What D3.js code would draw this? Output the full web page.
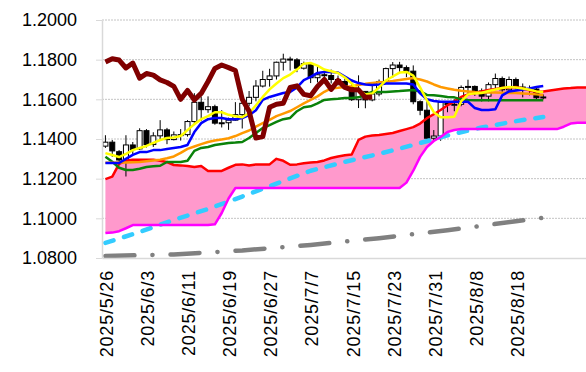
<!DOCTYPE html>
<html>
<head>
<meta charset="utf-8">
<script src="https://cdn.jsdelivr.net/npm/d3@7/dist/d3.min.js"></script>
<style>
  body { margin: 0; background: #fff; }
  svg { display: block; font-family: "Liberation Sans", Arial, sans-serif; }
</style>
</head>
<body>
<div id="chart"></div>
<script>
// trading days shown on the chart (weekdays)
const dates = [
  "2025/5/26", "2025/5/27", "2025/5/28", "2025/5/29", "2025/5/30",
  "2025/6/2", "2025/6/3", "2025/6/4", "2025/6/5", "2025/6/6",
  "2025/6/9", "2025/6/10", "2025/6/11", "2025/6/12", "2025/6/13",
  "2025/6/16", "2025/6/17", "2025/6/18", "2025/6/19", "2025/6/20",
  "2025/6/23", "2025/6/24", "2025/6/25", "2025/6/26", "2025/6/27",
  "2025/6/30", "2025/7/1", "2025/7/2", "2025/7/3", "2025/7/4",
  "2025/7/7", "2025/7/8", "2025/7/9", "2025/7/10", "2025/7/11",
  "2025/7/14", "2025/7/15", "2025/7/16", "2025/7/17", "2025/7/18",
  "2025/7/21", "2025/7/22", "2025/7/23", "2025/7/24", "2025/7/25",
  "2025/7/28", "2025/7/29", "2025/7/30", "2025/7/31", "2025/8/1",
  "2025/8/4", "2025/8/5", "2025/8/6", "2025/8/7", "2025/8/8",
  "2025/8/11", "2025/8/12", "2025/8/13", "2025/8/14", "2025/8/15",
  "2025/8/18", "2025/8/19", "2025/8/20", "2025/8/21", "2025/8/22",
];
const xTickIdx = [0, 6, 12, 18, 24, 30, 36, 42, 48, 54, 60];
const yTicks = [1.08, 1.1, 1.12, 1.14, 1.16, 1.18, 1.2];

const open = [
  1.1364, 1.1384, 1.1336, 1.1290, 1.1370, 1.1350, 1.1442, 1.1372, 1.1416, 1.1446,
  1.1397, 1.1421, 1.1422, 1.1488, 1.1585, 1.1548, 1.1563, 1.1480, 1.1482, 1.1495,
  1.1523, 1.1580, 1.1610, 1.1667, 1.1700, 1.1718, 1.1787, 1.1803, 1.1799, 1.1757,
  1.1780, 1.1709, 1.1724, 1.1720, 1.1700, 1.1690, 1.1660, 1.1598, 1.1640, 1.1597,
  1.1627, 1.1690, 1.1755, 1.1773, 1.1760, 1.1742, 1.1588, 1.1545, 1.1404, 1.1415,
  1.1585, 1.1573, 1.1575, 1.1660, 1.1665, 1.1642, 1.1616, 1.1674, 1.1705, 1.1648,
  1.1700, 1.1662, 1.1650, 1.1652, 1.1608,
];
const high = [
  1.1419, 1.1395, 1.1344, 1.1419, 1.1385, 1.1454, 1.1450, 1.1434, 1.1495, 1.1456,
  1.1438, 1.1450, 1.1495, 1.1631, 1.1614, 1.1615, 1.1573, 1.1545, 1.1508, 1.1586,
  1.1590, 1.1642, 1.1697, 1.1744, 1.1754, 1.1790, 1.1830, 1.1815, 1.1808, 1.1790,
  1.1785, 1.1766, 1.1746, 1.1750, 1.1720, 1.1705, 1.1700, 1.1721, 1.1640, 1.1670,
  1.1700, 1.1760, 1.1788, 1.1789, 1.1771, 1.1771, 1.1595, 1.1595, 1.1445, 1.1590,
  1.1590, 1.1600, 1.1670, 1.1699, 1.1670, 1.1655, 1.1685, 1.1730, 1.1715, 1.1715,
  1.1710, 1.1680, 1.1670, 1.1660, 1.1625,
];
const low = [
  1.1355, 1.1310, 1.1285, 1.1211, 1.1317, 1.1345, 1.1357, 1.1360, 1.1400, 1.1374,
  1.1393, 1.1392, 1.1412, 1.1470, 1.1490, 1.1532, 1.1472, 1.1458, 1.1446, 1.1492,
  1.1453, 1.1565, 1.1590, 1.1660, 1.1664, 1.1700, 1.1745, 1.1745, 1.1737, 1.1750,
  1.1682, 1.1685, 1.1680, 1.1680, 1.1670, 1.1650, 1.1592, 1.1556, 1.1555, 1.1590,
  1.1615, 1.1680, 1.1710, 1.1730, 1.1712, 1.1575, 1.1520, 1.1400, 1.1390, 1.1391,
  1.1535, 1.1540, 1.1565, 1.1630, 1.1617, 1.1589, 1.1590, 1.1650, 1.1630, 1.1640,
  1.1650, 1.1610, 1.1620, 1.1600, 1.1600,
];
const close = [
  1.1384, 1.1340, 1.1294, 1.1370, 1.1347, 1.1442, 1.1372, 1.1416, 1.1446, 1.1397,
  1.1421, 1.1422, 1.1488, 1.1585, 1.1548, 1.1563, 1.1480, 1.1482, 1.1495, 1.1523,
  1.1580, 1.1610, 1.1667, 1.1700, 1.1718, 1.1787, 1.1803, 1.1799, 1.1757, 1.1780,
  1.1709, 1.1724, 1.1720, 1.1700, 1.1690, 1.1660, 1.1598, 1.1640, 1.1597, 1.1627,
  1.1690, 1.1755, 1.1773, 1.1760, 1.1742, 1.1588, 1.1545, 1.1404, 1.1415, 1.1585,
  1.1573, 1.1575, 1.1660, 1.1665, 1.1642, 1.1616, 1.1674, 1.1705, 1.1648, 1.1700,
  1.1662, 1.1650, 1.1652, 1.1608, 1.1612,
];

// yellow line
const yellowLine = [
  1.1329, 1.1319, 1.1309, 1.1325, 1.1344, 1.1355, 1.1365, 1.1380, 1.1395, 1.1405,
  1.1408, 1.1415, 1.1445, 1.1475, 1.1500, 1.1515, 1.1535, 1.1535, 1.1522, 1.1515,
  1.1510, 1.1530, 1.1570, 1.1612, 1.1650, 1.1680, 1.1707, 1.1725, 1.1750, 1.1780,
  1.1783, 1.1770, 1.1750, 1.1742, 1.1733, 1.1710, 1.1680, 1.1645, 1.1625, 1.1630,
  1.1660, 1.1695, 1.1715, 1.1735, 1.1738, 1.1720, 1.1660, 1.1595, 1.1535, 1.1510,
  1.1510, 1.1512, 1.1590, 1.1625, 1.1630, 1.1632, 1.1642, 1.1650, 1.1657, 1.1662,
  1.1660, 1.1655, 1.1648, 1.1640, 1.1637,
];
// blue line (conversion)
const blueLine = [
  1.1279, 1.1279, 1.1279, 1.1300, 1.1320, 1.1334, 1.1334, 1.1344, 1.1344, 1.1350,
  1.1355, 1.1360, 1.1370, 1.1435, 1.1480, 1.1500, 1.1506, 1.1506, 1.1500, 1.1500,
  1.1506, 1.1520, 1.1545, 1.1597, 1.1612, 1.1622, 1.1632, 1.1637, 1.1660, 1.1697,
  1.1713, 1.1733, 1.1738, 1.1738, 1.1735, 1.1715, 1.1695, 1.1682, 1.1675, 1.1672,
  1.1675, 1.1680, 1.1680, 1.1680, 1.1680, 1.1675, 1.1630, 1.1600, 1.1592, 1.1588,
  1.1588, 1.1588, 1.1588, 1.1588, 1.1556, 1.1546, 1.1546, 1.1550, 1.1620, 1.1640,
  1.1645, 1.1650, 1.1655, 1.1662, 1.1667,
];
// green line (base)
const greenLine = [
  1.1310, 1.1285, 1.1255, 1.1244, 1.1244, 1.1250, 1.1259, 1.1262, 1.1265, 1.1284,
  1.1284, 1.1284, 1.1290, 1.1340, 1.1355, 1.1360, 1.1370, 1.1375, 1.1380, 1.1382,
  1.1385, 1.1405, 1.1430, 1.1455, 1.1470, 1.1486, 1.1500, 1.1506, 1.1540, 1.1560,
  1.1565, 1.1580, 1.1597, 1.1600, 1.1603, 1.1607, 1.1607, 1.1610, 1.1625, 1.1637,
  1.1637, 1.1637, 1.1640, 1.1642, 1.1645, 1.1647, 1.1640, 1.1622, 1.1620, 1.1617,
  1.1612, 1.1610, 1.1600, 1.1597, 1.1595, 1.1595, 1.1595, 1.1595, 1.1595, 1.1595,
  1.1595, 1.1595, 1.1595, 1.1595, 1.1595,
];
// orange line
const orangeLine = [
  1.1280, 1.1280, 1.1281, 1.1282, 1.1283, 1.1284, 1.1288, 1.1292, 1.1296, 1.1303,
  1.1312, 1.1330, 1.1350, 1.1362, 1.1374, 1.1385, 1.1392, 1.1398, 1.1404, 1.1415,
  1.1430, 1.1443, 1.1462, 1.1480, 1.1496, 1.1515, 1.1528, 1.1541, 1.1560, 1.1580,
  1.1597, 1.1615, 1.1638, 1.1655, 1.1658, 1.1662, 1.1666, 1.1672, 1.1678, 1.1682,
  1.1686, 1.1688, 1.1692, 1.1697, 1.1702, 1.1707, 1.1700, 1.1690, 1.1675, 1.1662,
  1.1655, 1.1648, 1.1643, 1.1640, 1.1637, 1.1635, 1.1635, 1.1634, 1.1633, 1.1632,
  1.1632, 1.1630, 1.1628, 1.1625, 1.1622,
];
// leading span 1 (red) and span 2 (magenta), running past the last candle
const span1 = [
  1.1198, 1.1210, 1.1275, 1.1290, 1.1296, 1.1296, 1.1296, 1.1296, 1.1290, 1.1284,
  1.1269, 1.1267, 1.1264, 1.1259, 1.1264, 1.1239, 1.1239, 1.1239, 1.1255, 1.1270,
  1.1272, 1.1266, 1.1272, 1.1272, 1.1272, 1.1300, 1.1290, 1.1270, 1.1272, 1.1278,
  1.1282, 1.1284, 1.1292, 1.1304, 1.1312, 1.1318, 1.1322, 1.1395, 1.1412, 1.1418,
  1.1420, 1.1425, 1.1430, 1.1440, 1.1450, 1.1460, 1.1478, 1.1505, 1.1525, 1.1546,
  1.1570, 1.1590, 1.1612, 1.1625, 1.1632, 1.1640, 1.1647, 1.1652, 1.1657, 1.1660,
  1.1662, 1.1655, 1.1645, 1.1638, 1.1640, 1.1645, 1.1650, 1.1655, 1.1657, 1.1660,
  1.1660, 1.1660,
];
const span2 = [
  1.0926, 1.0928, 1.0935, 1.0950, 1.0966, 1.0966, 1.0966, 1.0966, 1.0966, 1.0966,
  1.0966, 1.0966, 1.0966, 1.0966, 1.0966, 1.0966, 1.0970, 1.1027, 1.1100, 1.1153,
  1.1153, 1.1153, 1.1153, 1.1153, 1.1153, 1.1153, 1.1153, 1.1153, 1.1153, 1.1153,
  1.1153, 1.1153, 1.1153, 1.1153, 1.1153, 1.1153, 1.1153, 1.1153, 1.1153, 1.1153,
  1.1153, 1.1153, 1.1153, 1.1153, 1.1180, 1.1240, 1.1310, 1.1360, 1.1390, 1.1410,
  1.1435, 1.1445, 1.1450, 1.1450, 1.1450, 1.1450, 1.1450, 1.1450, 1.1450, 1.1450,
  1.1450, 1.1450, 1.1450, 1.1450, 1.1450, 1.1450, 1.1450, 1.1462, 1.1478, 1.1482,
  1.1482, 1.1482,
];
// lagging span (dark red), close shifted back
const laggingSpan = [
  1.1788, 1.1805, 1.1798, 1.1758, 1.1783, 1.1707, 1.1730, 1.1722, 1.1698, 1.1685,
  1.1665, 1.1600, 1.1645, 1.1597, 1.1630, 1.1690, 1.1756, 1.1773, 1.1760, 1.1745,
  1.1600, 1.1540, 1.1405, 1.1412, 1.1560, 1.1575, 1.1580, 1.1660, 1.1668, 1.1625,
  1.1618, 1.1665, 1.1700, 1.1650, 1.1695, 1.1660, 1.1648, 1.1648, 1.1610, 1.1612,
];
// long moving averages, read at [day index, value]
const cyanLine = [
  [0, 1.0876], [5, 1.0931], [10, 1.0992], [15, 1.1047], [20, 1.1110], [25, 1.1175],
  [30, 1.1240], [35, 1.1285], [40, 1.1325], [45, 1.1370], [50, 1.1418], [55, 1.1458],
  [60, 1.1490], [64, 1.1511],
];
const grayLine = [
  [0, 1.0810], [10, 1.0818], [20, 1.0838], [30, 1.0866], [40, 1.0900],
  [50, 1.0940], [60, 1.0985], [64, 1.1003],
];

document.addEventListener("DOMContentLoaded", () => {
  initChart();
});

const initChart = () => {
  const width = 586;
  const height = 372;
  const left = 102;
  const top = 20;
  const bottom = 258;

  const svg = d3
    .select("#chart")
    .append("svg")
    .attr("width", width)
    .attr("height", height);

  svg.append("rect").attr("width", width).attr("height", height).attr("fill", "#fff");

  const xScale = d3.scaleLinear().domain([-0.5, 70.25]).range([left, width]);
  const yScale = d3.scaleLinear().domain([1.08, 1.2]).range([bottom, top]);

  // dotted grid
  svg
    .append("g")
    .selectAll("line")
    .data(yTicks.slice(1))
    .enter()
    .append("line")
    .attr("x1", left)
    .attr("x2", width)
    .attr("y1", (d) => yScale(d))
    .attr("y2", (d) => yScale(d))
    .attr("stroke", "#c4c4c4")
    .attr("stroke-width", 1)
    .attr("stroke-dasharray", "2,1");

  // cloud
  const cloud = d3
    .area()
    .x((d, i) => xScale(i))
    .y0((d, i) => yScale(span2[i]))
    .y1((d) => yScale(d));
  svg.append("path").attr("d", cloud(span1)).attr("fill", "#ff99cc");

  // candles
  const candles = svg
    .append("g")
    .selectAll("g")
    .data(close)
    .enter()
    .append("g");
  candles
    .append("line")
    .attr("x1", (d, i) => xScale(i))
    .attr("x2", (d, i) => xScale(i))
    .attr("y1", (d, i) => yScale(high[i]))
    .attr("y2", (d, i) => yScale(low[i]))
    .attr("stroke", "#000")
    .attr("stroke-width", 1);
  candles
    .append("rect")
    .attr("x", (d, i) => xScale(i) - 2.5)
    .attr("width", 5)
    .attr("y", (d, i) => yScale(Math.max(open[i], d)))
    .attr("height", (d, i) => Math.max(1, Math.abs(yScale(open[i]) - yScale(d))))
    .attr("fill", (d, i) => (d < open[i] ? "#000" : "#fff"))
    .attr("stroke", "#000")
    .attr("stroke-width", 1);

  const line = d3
    .line()
    .x((d, i) => xScale(i))
    .y((d) => yScale(d));
  const pairLine = d3
    .line()
    .x((d) => xScale(d[0]))
    .y((d) => yScale(d[1]));

  const drawPath = (d, color, w, dash, cap) =>
    svg
      .append("path")
      .attr("d", d)
      .attr("fill", "none")
      .attr("stroke", color)
      .attr("stroke-width", w)
      .attr("stroke-dasharray", dash)
      .attr("stroke-linecap", cap || "butt")
      .attr("stroke-linejoin", "round");

  drawPath(pairLine(grayLine), "#808080", 4.5, "29,18,0.1,18", "round");
  drawPath(pairLine(cyanLine), "#33ccff", 4.5, "8.5,11", "round");
  drawPath(line(span2), "#ff00ff", 2.5);
  drawPath(line(span1), "#ff0000", 2.5);
  drawPath(line(greenLine), "#0a820a", 2.5);
  drawPath(line(orangeLine), "#ff9900", 2.5);
  drawPath(line(blueLine), "#0000ff", 2.5);
  drawPath(line(yellowLine), "#ffff00", 2.5);
  drawPath(line(laggingSpan), "#800000", 5);

  // axes
  const yAxis = d3
    .axisLeft(yScale)
    .tickValues(yTicks)
    .tickFormat(d3.format(".4f"))
    .tickSize(6)
    .tickSizeOuter(0)
    .tickPadding(19);
  const yAxisG = svg.append("g").attr("transform", `translate(${left}, 0)`).call(yAxis);
  yAxisG.select(".domain").attr("stroke", "#d9d9d9").attr("stroke-width", 1.5);
  yAxisG.selectAll(".tick line").attr("stroke", "#d9d9d9");
  yAxisG
    .selectAll(".tick text")
    .attr("fill", "#000")
    .style("font-size", "18px")
    .style("font-family", '"Liberation Sans", Arial, sans-serif');

  const xAxis = d3
    .axisBottom(xScale)
    .tickValues(xTickIdx)
    .tickFormat((i) => dates[i])
    .tickSize(0)
    .tickSizeOuter(0);
  const xAxisG = svg.append("g").attr("transform", `translate(0, ${bottom})`).call(xAxis);
  xAxisG.select(".domain").attr("stroke", "#d9d9d9").attr("stroke-width", 1.5);
  xAxisG
    .selectAll(".tick text")
    .attr("transform", "rotate(-90)")
    .attr("text-anchor", "end")
    .attr("x", -12)
    .attr("y", 1)
    .attr("dy", "0.35em")
    .attr("fill", "#000")
    .style("font-size", "18px")
    .style("letter-spacing", "0.8px")
    .style("font-family", '"Liberation Sans", Arial, sans-serif');
};
</script>
</body>
</html>
